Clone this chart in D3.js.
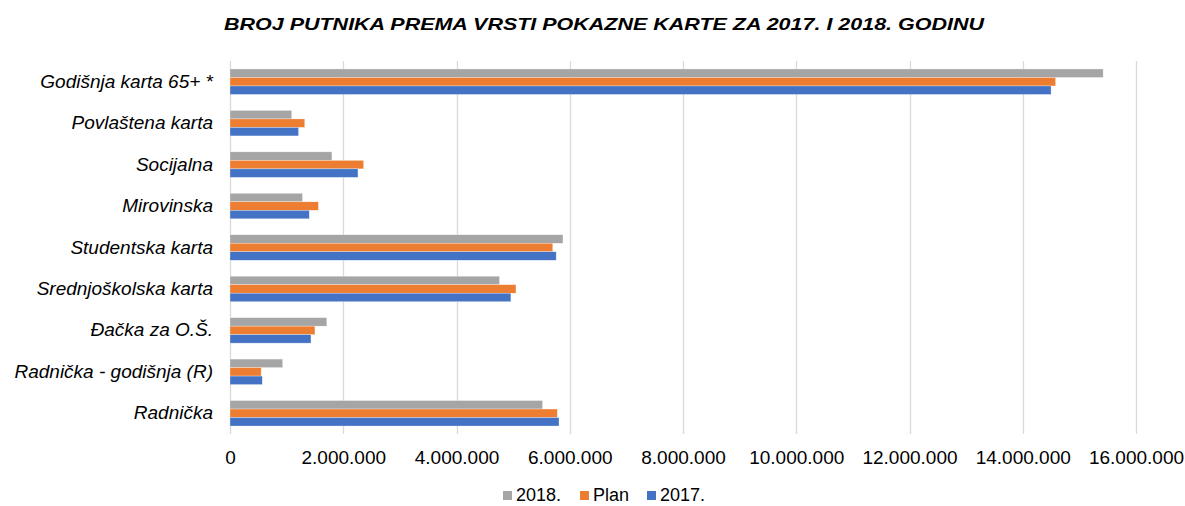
<!DOCTYPE html>
<html><head><meta charset="utf-8">
<script src="https://cdn.jsdelivr.net/npm/d3@7"></script>
<style>body{margin:0;background:#fff;font-family:"Liberation Sans",Arial,sans-serif;}</style>
</head><body><svg id="c" width="1185" height="506"></svg>
<script>
const categories = ["Godišnja karta 65+ *","Povlaštena karta","Socijalna","Mirovinska","Studentska karta","Srednjoškolska karta","Đačka za O.Š.","Radnička - godišnja (R)","Radnička"];
const seriesNames = ["2018.","Plan","2017."];
const values2018 = [15420000,1090000,1800000,1280000,5880000,4760000,1710000,930000,5520000];
const valuesPlan = [14580000,1320000,2360000,1560000,5700000,5050000,1500000,550000,5780000];
const values2017 = [14500000,1210000,2260000,1400000,5760000,4960000,1430000,570000,5810000];
const tickValues = [0,2000000,4000000,6000000,8000000,10000000,12000000,14000000,16000000];
const colors = ["#A5A5A5","#ED7D31","#4472C4"];
const series = [values2018, valuesPlan, values2017];

const svg = d3.select("#c");
const x = d3.scaleLinear().domain([0,16000000]).range([230,1136]);
const y = d3.scaleBand().domain(categories).range([61,434]).paddingInner(0.385).paddingOuter(0.1925);
const y1 = d3.scaleBand().domain(seriesNames).range([0,y.bandwidth()]);
const fmt = v => d3.format(",")(v).replace(/,/g,".");
const FF = "Liberation Sans, Arial, sans-serif";

svg.append("text").attr("x",604).attr("y",30).attr("text-anchor","middle")
  .attr("font-size",17).attr("font-weight","bold").attr("font-style","italic").attr("fill","#000")
  .attr("font-family",FF)
  .attr("textLength",760).attr("lengthAdjust","spacingAndGlyphs")
  .text("BROJ PUTNIKA PREMA  VRSTI POKAZNE KARTE ZA 2017. I 2018. GODINU");

// gridlines
svg.append("g").selectAll("line").data(tickValues).join("line")
  .attr("x1",d=>Math.round(x(d))+0.5).attr("x2",d=>Math.round(x(d))+0.5)
  .attr("y1",61).attr("y2",434).attr("stroke","#D9D9D9").attr("stroke-width",1.3);

// x axis labels
const xa = svg.append("g").attr("transform","translate(0,434)")
  .call(d3.axisBottom(x).tickValues(tickValues).tickFormat(fmt).tickSize(0).tickPadding(17));
xa.select(".domain").remove();
xa.selectAll("text").attr("font-size",19).attr("fill","#000").attr("font-family",FF);

// y axis labels
const ya = svg.append("g").attr("transform","translate(230,0)")
  .call(d3.axisLeft(y).tickSize(0).tickPadding(17));
ya.select(".domain").remove();
ya.selectAll("text").attr("font-size",19).attr("font-style","italic").attr("fill","#000").attr("font-family",FF);

// bars
series.forEach((vals,si)=>{
  svg.append("g").selectAll("rect").data(vals).join("rect")
    .attr("x",x(0))
    .attr("y",(d,i)=>y(categories[i])+y1(seriesNames[si]))
    .attr("width",d=>x(d)-x(0))
    .attr("height",y1.bandwidth())
    .attr("fill",colors[si]).attr("stroke","#fff").attr("stroke-width",0.5).attr("stroke-opacity",0.6);
});

// legend
const legX = [503,580,647];
const lg = svg.append("g");
seriesNames.forEach((n,i)=>{
  lg.append("rect").attr("x",legX[i]).attr("y",491).attr("width",9).attr("height",9).attr("fill",colors[i]);
  lg.append("text").attr("x",legX[i]+13).attr("y",501).attr("font-size",18).attr("fill","#000").attr("font-family",FF).text(n);
});
</script></body></html>
